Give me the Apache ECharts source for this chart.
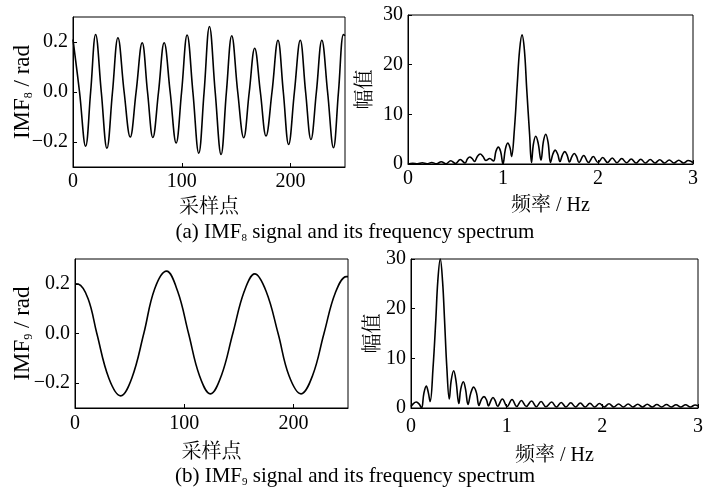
<!DOCTYPE html>
<html><head><meta charset="utf-8">
<script src="https://cdn.jsdelivr.net/npm/echarts@6/dist/echarts.min.js"></script>
<style>html,body{margin:0;padding:0;background:#fff}#c{width:710px;height:490px}</style>
</head><body><div id="c"></div>
<script>
// ---- data ----
var sigTicksX = [0, 100, 200];
var sigTicksY = [-0.2, 0, 0.2];
var specTicksX = [0, 1, 2, 3];
var specTicksY = [0, 10, 20, 30];

var imf8Signal = [[0,0.21],[6,0],[11.6,-0.217],[16.2,0],[20.8,0.23],[26,0],[31.2,-0.225],[36.3,0],[41.3,0.217],[47,0],[52.6,-0.18],[58,0],[63.6,0.197],[68.5,0],[73.4,-0.182],[78.6,0],[83.8,0.197],[89.3,0],[94.8,-0.204],[99.8,0],[104.9,0.228],[110.2,0],[115.6,-0.245],[120.5,0],[125.4,0.262],[130.7,0],[136.1,-0.25],[141,0],[145.9,0.225],[151.4,0],[156.9,-0.183],[162,0],[167,0.175],[172.2,0],[177.4,-0.176],[182.9,0],[188.4,0.207],[193.3,0],[198.2,-0.21],[203.5,0],[208.9,0.207],[213.8,0],[218.7,-0.19],[223.7,0],[228.7,0.207],[234,0],[239.4,-0.223],[244,0],[248.6,0.23],[250,0.225]];

var imf8Spectrum = [[0,0],[0.05,0.15],[0.1,0.05],[0.15,0.25],[0.2,0.05],[0.25,0.3],[0.3,0.05],[0.35,0.45],[0.4,0.05],[0.45,0.65],[0.5,0.1],[0.55,0.9],[0.6,0.2],[0.625,1.0],[0.65,1.4],[0.675,1.1],[0.7,0.5],[0.73,1.5],[0.76,2.0],[0.79,1.5],[0.82,0.7],[0.86,1.1],[0.9,0.6],[0.925,2.5],[0.95,3.4],[0.975,2.5],[1.0,0],[1.025,3.0],[1.05,4.2],[1.075,3.2],[1.09,1.5],[1.12,7],[1.15,16],[1.175,23],[1.2,26],[1.225,23],[1.25,15],[1.28,6],[1.30,0.3],[1.32,4],[1.345,5.6],[1.37,4.2],[1.40,0.8],[1.425,4.5],[1.45,6.0],[1.475,4.3],[1.50,0.3],[1.525,2.0],[1.55,2.8],[1.575,2.0],[1.60,0.5],[1.625,1.8],[1.65,2.5],[1.675,1.8],[1.70,0.4],[1.725,1.5],[1.75,2.1],[1.775,1.5],[1.80,0.3],[1.85,1.7],[1.90,0.3],[1.95,1.5],[2.0,0.3],[2.05,1.3],[2.1,0.3],[2.15,1.2],[2.2,0.25],[2.25,1.1],[2.3,0.25],[2.35,1.0],[2.4,0.2],[2.45,0.95],[2.5,0.2],[2.55,0.9],[2.6,0.2],[2.65,0.85],[2.7,0.2],[2.75,0.8],[2.8,0.2],[2.85,0.75],[2.9,0.2],[2.95,0.7],[3.0,0.3]];

var imf9Signal = [[0,0.2],[3,0.199],[12,0.14],[20,0],[31,-0.18],[41.8,-0.251],[52,-0.18],[63,0],[73,0.18],[83.8,0.251],[94,0.17],[104,0],[114,-0.17],[124,-0.243],[134,-0.17],[144.5,0],[155,0.17],[164.6,0.24],[175,0.17],[186,0],[196,-0.17],[207,-0.243],[217.5,-0.17],[228,0],[238.5,0.165],[248.5,0.229],[250,0.229]];

var imf9Spectrum = [[0,0.3],[0.025,0.9],[0.055,1.2],[0.085,0.8],[0.11,0],[0.135,3.0],[0.16,4.4],[0.18,3.2],[0.20,1.3],[0.23,8],[0.26,18],[0.28,25.5],[0.306,30],[0.33,25.5],[0.35,18],[0.375,8],[0.40,1.8],[0.42,5.5],[0.446,7.5],[0.47,5.5],[0.50,0.9],[0.52,3.8],[0.547,5.3],[0.57,3.8],[0.596,0.7],[0.625,3.0],[0.655,4.2],[0.685,3.0],[0.71,0.5],[0.735,1.7],[0.763,2.3],[0.79,1.6],[0.81,0.4],[0.835,1.5],[0.857,2.1],[0.88,1.5],[0.905,0.35],[0.955,1.8],[1.005,0.3],[1.056,1.7],[1.105,0.3],[1.153,1.5],[1.205,0.3],[1.26,1.4],[1.31,0.25],[1.36,1.3],[1.41,0.25],[1.47,1.2],[1.52,0.2],[1.57,1.1],[1.62,0.2],[1.67,1.05],[1.72,0.2],[1.77,1.0],[1.82,0.2],[1.87,0.95],[1.92,0.2],[1.97,0.9],[2.02,0.2],[2.07,0.85],[2.12,0.2],[2.17,0.8],[2.22,0.2],[2.27,0.8],[2.32,0.2],[2.37,0.75],[2.42,0.2],[2.47,0.75],[2.52,0.2],[2.57,0.7],[2.62,0.2],[2.67,0.7],[2.72,0.2],[2.77,0.65],[2.82,0.2],[2.87,0.65],[2.92,0.2],[2.97,0.6],[3.0,0.4]];

var captionA = ['(a) IMF', '8', ' signal and its frequency spectrum'];
var captionB = ['(b) IMF', '9', ' signal and its frequency spectrum'];
var xNameSig = '采样点';
var xNameSpec = '频率 / Hz';
var yNameSpec = '幅值';

// ---- chart ----
var FONT = '"Liberation Serif", "Times New Roman", "Noto Serif CJK SC", "Noto Sans CJK SC", serif';
var capRich = {
  a: {fontFamily: FONT, fontSize: 21, fontWeight: 'normal', color: '#000', lineHeight: 23},
  s: {fontFamily: FONT, fontSize: 11, fontWeight: 'normal', color: '#000', verticalAlign: 'bottom', lineHeight: 11}
};
var yRich = {
  a: {fontFamily: FONT, fontSize: 23, fontWeight: 'normal', color: '#000', lineHeight: 25},
  s: {fontFamily: FONT, fontSize: 12, fontWeight: 'normal', color: '#000', verticalAlign: 'bottom', lineHeight: 12}
};
function minusFmt(v){ var s = Math.abs(v) < 1e-9 ? '0.0' : Math.abs(v).toFixed(1); return v < -1e-9 ? '\u2212' + s : s; }

function xAxis(idx, min, max, ticks, name, gap, margin){
  return {type: 'value', gridIndex: idx, min: min, max: max,
    name: name, nameLocation: 'middle', nameGap: gap,
    nameTextStyle: {fontFamily: FONT, fontSize: 20, color: '#000'},
    axisLine: {onZero: false, lineStyle: {color: '#000', width: 1}},
    axisTick: {inside: true, length: 4, lineStyle: {color: '#000'}, customValues: ticks},
    axisLabel: {fontFamily: FONT, fontSize: 20, color: '#000', margin: margin, customValues: ticks},
    splitLine: {show: false}};
}
function yAxis(idx, min, max, ticks, name, gap, fmt, fs){
  return {type: 'value', gridIndex: idx, min: min, max: max,
    name: name, nameLocation: 'middle', nameGap: gap, nameRotate: 90, nameMoveOverlap: false,
    nameTextStyle: {fontFamily: FONT, fontSize: fs, color: '#000', rich: yRich},
    axisLine: {onZero: false, lineStyle: {color: '#000', width: 1}},
    axisTick: {inside: true, length: 4, lineStyle: {color: '#000'}, customValues: ticks},
    axisLabel: {fontFamily: FONT, fontSize: 20, color: '#000', margin: 5, customValues: ticks, formatter: fmt},
    splitLine: {show: false}};
}
function line(idx, data){
  return {type: 'line', xAxisIndex: idx, yAxisIndex: idx, data: data, showSymbol: false,
    smooth: 0.4, lineStyle: {color: '#000', width: 1.6}, silent: true, animation: false, clip: true};
}
var gridStyle = {show: true, borderColor: '#000', borderWidth: 1, backgroundColor: 'transparent'};

var chart = echarts.init(document.getElementById('c'), null, {renderer: 'canvas'});
chart.setOption({
  backgroundColor: '#fff',
  animation: false,
  title: [
    {text: '{a|' + captionA[0] + '}{s|' + captionA[1] + '}{a|' + captionA[2] + '}', left: 'center', top: 216,
      textStyle: {fontWeight: 'normal', rich: capRich}},
    {text: '{a|' + captionB[0] + '}{s|' + captionB[1] + '}{a|' + captionB[2] + '}', left: 'center', top: 460,
      textStyle: {fontWeight: 'normal', rich: capRich}}
  ],
  grid: [
    Object.assign({left: 73, top: 17, width: 272, height: 150}, gridStyle),
    Object.assign({left: 408, top: 15, width: 285, height: 149}, gridStyle),
    Object.assign({left: 75, top: 259, width: 273, height: 149}, gridStyle),
    Object.assign({left: 411, top: 259, width: 287, height: 149}, gridStyle)
  ],
  xAxis: [
    xAxis(0, 0, 250, sigTicksX, xNameSig, 31, 5),
    xAxis(1, 0, 3, specTicksX, xNameSpec, 32, 5),
    xAxis(2, 0, 250, sigTicksX, xNameSig, 35, 6),
    xAxis(3, 0, 3, specTicksX, xNameSpec, 38, 9)
  ],
  yAxis: [
    yAxis(0, -0.3, 0.3, sigTicksY, '{a|IMF}{s|8}{a| / rad}', 38, minusFmt, 23),
    yAxis(1, 0, 30, specTicksY, yNameSpec, 32, null, 20),
    yAxis(2, -0.3, 0.3, sigTicksY, '{a|IMF}{s|9}{a| / rad}', 40, minusFmt, 23),
    yAxis(3, 0, 30, specTicksY, yNameSpec, 27, null, 20)
  ],
  series: [line(0, imf8Signal), line(1, imf8Spectrum), line(2, imf9Signal), line(3, imf9Spectrum)]
});
</script></body></html>
